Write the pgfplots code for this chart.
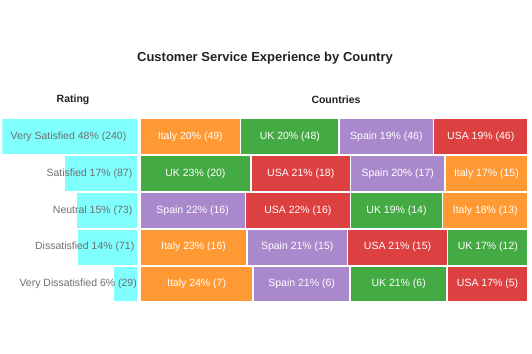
\documentclass[border=0pt]{standalone}
\usepackage{pgfplots}
\pgfplotsset{compat=1.18}
\usepackage{fontspec}
\setmainfont{Liberation Sans}
\definecolor{cCyan}{HTML}{80FFFF}
\definecolor{cItaly}{HTML}{FF9933}
\definecolor{cUK}{HTML}{44AA44}
\definecolor{cSpain}{HTML}{AA88CC}
\definecolor{cUSA}{HTML}{DD4040}
\definecolor{cLab}{HTML}{6E6E6E}
\definecolor{cHead}{HTML}{222222}
\pgfplotsset{
  rowax/.style={anchor=south west, scale only axis, width=388bp, height=36.9bp,
    ymin=-0.5, ymax=0.5, xmin=0, axis lines=none, xbar stacked, bar width=36bp, bar shift=0pt,
    clip=false},
  cellplot/.style={fill=#1, draw=white, line width=1.4pt},
}
\tikzset{cell/.style={text=white, font=\fontsize{10.5bp}{12bp}\selectfont, inner sep=0pt}}
\begin{document}
\begin{tikzpicture}
\useasboundingbox (0,0) rectangle (532bp,354bp);
\node[font=\bfseries\fontsize{13bp}{15bp}\selectfont, text=cHead] at (265bp,296bp) {Customer Service Experience by Country};
\node[font=\bfseries\fontsize{10.5bp}{13bp}\selectfont, text=cHead] at (73bp,254bp) {Rating};
\node[font=\bfseries\fontsize{10.5bp}{13bp}\selectfont, text=cHead] at (336bp,254bp) {Countries};

% Left: rating totals
\begin{axis}[at={(2.5bp,51.45bp)}, anchor=south west, scale only axis, width=135bp, height=184.5bp,
  xmin=0, xmax=160, x dir=reverse, ymin=0.5, ymax=5.5, y dir=reverse, axis lines=none,
  xbar, bar width=36bp, bar shift=0pt]
\addplot[fill=cCyan, draw=white, line width=1.4pt] coordinates {(240,1) (87,2) (73,3) (71,4) (29,5)};
\coordinate (L1) at (axis cs:0,1);
\coordinate (L2) at (axis cs:0,2);
\coordinate (L3) at (axis cs:0,3);
\coordinate (L4) at (axis cs:0,4);
\coordinate (L5) at (axis cs:0,5);
\end{axis}
\begin{scope}[every node/.style={anchor=east, text=cLab, font=\fontsize{10.5bp}{12bp}\selectfont, inner sep=0pt}]
\node[xshift=-11bp] at (L1) {Very Satisfied 48\% (240)};
\node[xshift=-5bp] at (L2) {Satisfied 17\% (87)};
\node[xshift=-5bp] at (L3) {Neutral 15\% (73)};
\node[xshift=-3bp] at (L4) {Dissatisfied 14\% (71)};
\node[xshift=-0.5bp] at (L5) {Very Dissatisfied 6\% (29)};
\end{scope}

% Row 1: Very Satisfied
\begin{axis}[rowax, at={(140bp,199.05bp)}, xmax=189]
\addplot[cellplot=cItaly] coordinates {(49,0)};
\addplot[cellplot=cUK] coordinates {(48,0)};
\addplot[cellplot=cSpain] coordinates {(46,0)};
\addplot[cellplot=cUSA] coordinates {(46,0)};
\coordinate (a1) at (axis cs:24.5,0);
\coordinate (a2) at (axis cs:73,0);
\coordinate (a3) at (axis cs:120,0);
\coordinate (a4) at (axis cs:166,0);
\end{axis}
\node[cell] at (a1) {Italy 20\% (49)};
\node[cell] at (a2) {UK 20\% (48)};
\node[cell] at (a3) {Spain 19\% (46)};
\node[cell] at (a4) {USA 19\% (46)};

% Row 2: Satisfied
\begin{axis}[rowax, at={(140bp,162.15bp)}, xmax=70]
\addplot[cellplot=cUK] coordinates {(20,0)};
\addplot[cellplot=cUSA] coordinates {(18,0)};
\addplot[cellplot=cSpain] coordinates {(17,0)};
\addplot[cellplot=cItaly] coordinates {(15,0)};
\coordinate (b1) at (axis cs:10,0);
\coordinate (b2) at (axis cs:29,0);
\coordinate (b3) at (axis cs:46.5,0);
\coordinate (b4) at (axis cs:62.5,0);
\end{axis}
\node[cell] at (b1) {UK 23\% (20)};
\node[cell] at (b2) {USA 21\% (18)};
\node[cell] at (b3) {Spain 20\% (17)};
\node[cell] at (b4) {Italy 17\% (15)};

% Row 3: Neutral
\begin{axis}[rowax, at={(140bp,125.25bp)}, xmax=59]
\addplot[cellplot=cSpain] coordinates {(16,0)};
\addplot[cellplot=cUSA] coordinates {(16,0)};
\addplot[cellplot=cUK] coordinates {(14,0)};
\addplot[cellplot=cItaly] coordinates {(13,0)};
\coordinate (c1) at (axis cs:8,0);
\coordinate (c2) at (axis cs:24,0);
\coordinate (c3) at (axis cs:39,0);
\coordinate (c4) at (axis cs:52.5,0);
\end{axis}
\node[cell] at (c1) {Spain 22\% (16)};
\node[cell] at (c2) {USA 22\% (16)};
\node[cell] at (c3) {UK 19\% (14)};
\node[cell] at (c4) {Italy 18\% (13)};

% Row 4: Dissatisfied
\begin{axis}[rowax, at={(140bp,88.35bp)}, xmax=58]
\addplot[cellplot=cItaly] coordinates {(16,0)};
\addplot[cellplot=cSpain] coordinates {(15,0)};
\addplot[cellplot=cUSA] coordinates {(15,0)};
\addplot[cellplot=cUK] coordinates {(12,0)};
\coordinate (d1) at (axis cs:8,0);
\coordinate (d2) at (axis cs:23.5,0);
\coordinate (d3) at (axis cs:38.5,0);
\coordinate (d4) at (axis cs:52,0);
\end{axis}
\node[cell] at (d1) {Italy 23\% (16)};
\node[cell] at (d2) {Spain 21\% (15)};
\node[cell] at (d3) {USA 21\% (15)};
\node[cell] at (d4) {UK 17\% (12)};

% Row 5: Very Dissatisfied
\begin{axis}[rowax, at={(140bp,51.45bp)}, xmax=24]
\addplot[cellplot=cItaly] coordinates {(7,0)};
\addplot[cellplot=cSpain] coordinates {(6,0)};
\addplot[cellplot=cUK] coordinates {(6,0)};
\addplot[cellplot=cUSA] coordinates {(5,0)};
\coordinate (e1) at (axis cs:3.5,0);
\coordinate (e2) at (axis cs:10,0);
\coordinate (e3) at (axis cs:16,0);
\coordinate (e4) at (axis cs:21.5,0);
\end{axis}
\node[cell] at (e1) {Italy 24\% (7)};
\node[cell] at (e2) {Spain 21\% (6)};
\node[cell] at (e3) {UK 21\% (6)};
\node[cell] at (e4) {USA 17\% (5)};
\end{tikzpicture}
\end{document}
